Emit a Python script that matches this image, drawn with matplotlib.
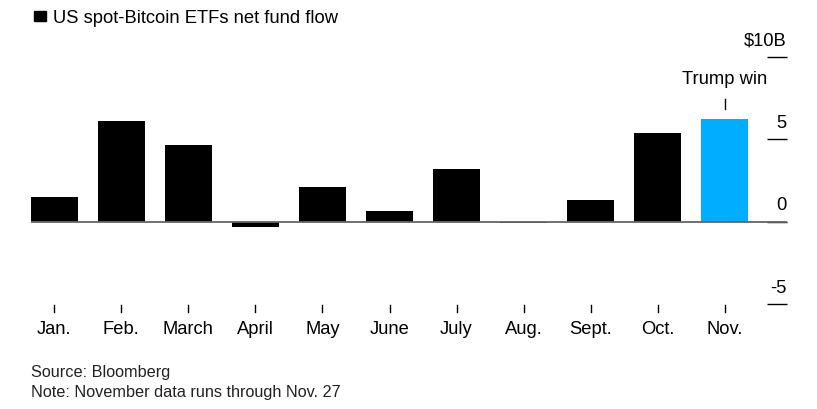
import matplotlib.pyplot as plt
from matplotlib.patches import Rectangle

plt.rcParams['font.family'] = ['Liberation Sans', 'DejaVu Sans']

months = ["Jan.", "Feb.", "March", "April", "May", "June", "July",
          "Aug.", "Sept.", "Oct.", "Nov."]
flows = [1.47, 6.07, 4.65, -0.33, 2.07, 0.65, 3.18, -0.1, 1.28, 5.38, 6.21]
ytick_vals = [10, 5, 0, -5]
ytick_labels = ["$10B", "5", "0", "-5"]

colors = ["#000000"] * (len(flows) - 1) + ["#00adfe"]

fig = plt.figure(figsize=(8.17, 4.10), dpi=100)
ax = fig.add_axes([0, 0, 1, 1])
px_per_b = 16.5
ax.set_xlim(-54.3 / 67.04, (817 - 54.3) / 67.04)
ax.set_ylim(-(410 - 222.5) / px_per_b, 222.5 / px_per_b)
ax.axis("off")

x = list(range(len(months)))
ax.bar(x, flows, width=0.7, color=colors, zorder=2)

# zero line
ax.plot([-0.35, 10.925], [0, 0], color="#666666", lw=1.3, zorder=3,
        solid_capstyle="butt")

# right-hand value scale
for v, lab in zip(ytick_vals, ytick_labels):
    ax.plot([10.627, 10.925], [v, v], color="#000000", lw=1.0,
            solid_capstyle="butt")
    ax.text(10.925, v + 1.03, lab, ha="right", va="center", fontsize=13.2)

# month ticks and labels
for i, m in enumerate(months):
    ax.plot([i, i], [-5.06, -5.47], color="#000000", lw=1.0)
    ax.text(i, -6.5, m, ha="center", va="center", fontsize=13.2)

# annotation
ax.text(10, 8.64, "Trump win", ha="center", va="center", fontsize=13.2)
ax.plot([10, 10], [7.42, 6.82], color="#000000", lw=1.0)

# title with square marker
fig.patches.append(Rectangle((34.3 / 817, 1 - 22.3 / 410), 11.4 / 817, 10.6 / 410,
                             transform=fig.transFigure, color="#000000"))
fig.text(53.3 / 817, 1 - 22.7 / 410, "US spot-Bitcoin ETFs net fund flow",
         ha="left", va="baseline", fontsize=13.2)

fig.text(31 / 817, 1 - 373 / 410, "Source: Bloomberg", ha="left", va="center",
         fontsize=11.7, color="#222222")
fig.text(31 / 817, 1 - 393 / 410, "Note: November data runs through Nov. 27",
         ha="left", va="center", fontsize=11.7, color="#222222")

fig.savefig("out.png", dpi=100)
